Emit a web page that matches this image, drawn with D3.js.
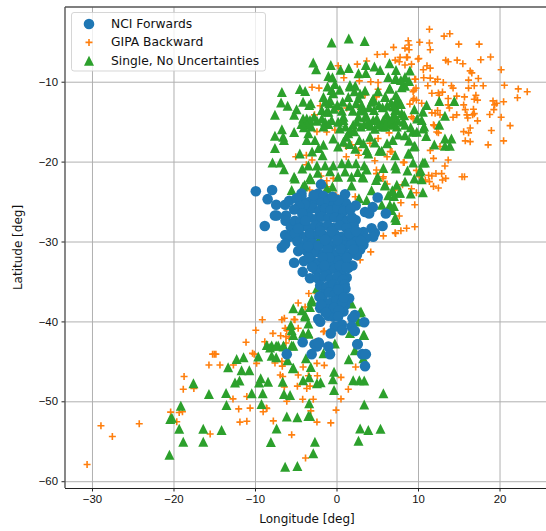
<!DOCTYPE html>
<head>
    <meta charset="utf-8">
    <style>
        body{
            margin:0;
            background:#fff;
        }

        svg{
            display:block;
            font-family:'DejaVu Sans', sans-serif;
        }

        .axis text{
            font-size:11.4px;
            fill:#111;
        }

        .axis line{
            stroke:#222;
        }

        .axis .domain{
            display:none;
        }

        .grid line{
            stroke:#b0b0b0;
            stroke-width:1px;
        }

        .grid .domain{
            display:none;
        }

        .label{
            font-size:12px;
            fill:#111;
        }

        .legend text{
            font-size:12.3px;
            fill:#111;
        }
    </style>
</head>
<body>
    <div id="chart"></div>
    <script src="https://d3js.org/d3.v7.min.js"></script>
    <script>
        // values as [longitude, latitude]
        var nciPoints = [
            [-9.9,-23.7],[-7.9,-23.55],[-8.45,-24.7],[-7.4,-25.4],[-6.3,-25.4],[-5.8,-24.9],[-7.55,-26.75],[-7.35,-26.75],
            [-8.8,-28.05],[-6.2,-26.75],[-6.25,-27.4],[-5.6,-28.2],[-5.1,-27.4],[-4.4,-27.6],[-6.3,-29.2],[-5.7,-29.4],
            [-6.7,-30.75],[-6.3,-30.3],[-4.5,-29.2],[-3.65,-29.4],[-4.7,-31.2],[-3.65,-31.2],[-5.2,-32.65],[-4,-32.45],
            [-4.15,-33.8],[-3.25,-34.6],[-1.9,-22.85],[-4.3,-24],[-4.3,-24.4],[-4.9,-24.6],[-3.6,-25.2],[-2.25,-24],
            [-1.6,-24.3],[1.05,-24.1],[0.35,-25],[1.15,-25.2],[2.35,-25.5],[5.05,-24.5],[4.45,-25.7],[3.5,-26.3],
            [4,-26.5],[6.05,-26.5],[2.35,-27.3],[0.45,-26.3],[5.65,-28.05],[4.3,-28.35],[4.7,-28.9],[3.3,-28.8],
            [4.5,-29.4],[2.7,-29],[1.85,-29.2],[3.3,-30.4],[2.9,-31],[2.5,-31.7],[1.95,-33],[1.45,-33.3],
            [1.25,-34.5],[0.85,-36.1],[1.55,-37.1],[1.05,-37.95],[0.85,-38.75],[-2,-38.35],[-1.6,-38.15],[-2.25,-39.7],
            [-2,-40.05],[-0.4,-39.4],[2.25,-39.2],[1.95,-39.6],[3.4,-40.1],[1.85,-40.65],[2.25,-41.2],[0.65,-40.4],
            [-0.2,-40.65],[0.7,-41.1],[-0.7,-41.5],[2.6,-42.85],[-1,-43.15],[-2.15,-42.75],[-2.7,-42.85],[-2.4,-43.15],
            [-4.15,-42.6],[-2.2,-42.65],[-3.05,-44.1],[-6.1,-44.1],[-0.8,-44.1],[2.55,-42.85],[3.15,-44.1],[3.6,-44.1],
            [3.5,-45.6],
            // the dense column
            [-3.2,-25],[-2.6,-24.8],[-1.8,-25.2],[-1,-24.9],[-0.3,-25.3],[-3.4,-26],[-2.9,-25.8],[-2.1,-26.2],
            [-1.4,-25.9],[-0.7,-26.1],[0.1,-25.8],[0.9,-26.2],[-3.3,-27],[-2.5,-27.2],[-1.8,-26.9],[-1,-27.1],
            [-0.2,-27],[0.6,-27.2],[1.3,-27.4],[2.1,-28],[-4.1,-28.1],[-3.4,-28.3],[-2.6,-28],[-1.9,-28.2],
            [-1.1,-28],[-0.4,-28.3],[0.4,-28],[1.2,-28.3],[-5.1,-29],[-4.8,-30],[-2.9,-29.3],[-1.7,-29.2],
            [-1,-29.4],[-0.2,-29.1],[0.6,-29.4],[1.3,-29.5],[2.4,-30],[3.6,-29.6],[-3.9,-30.4],[-3,-30.2],
            [-2.7,-30.8],[-1.4,-30.3],[-0.6,-30.5],[0.2,-30.2],[1,-30.5],[1.8,-30.4],[-3.1,-31.5],[-2.4,-31.3],
            [-1.6,-31.6],[-0.8,-31.3],[0,-31.6],[0.8,-31.3],[1.6,-31.6],[-2.9,-32.5],[-2.2,-32.7],[-1.4,-32.4],
            [-0.6,-32.7],[0.2,-32.4],[1,-32.7],[-2.5,-33.6],[-1.8,-33.4],[-1,-33.7],[-0.2,-33.4],[0.6,-33.7],
            [-2.3,-34.6],[-1.5,-34.4],[-0.7,-34.7],[0.1,-34.4],[0.8,-34.8],[-2,-35.5],[-1.2,-35.7],[-0.4,-35.4],
            [0.3,-35.7],[1,-35.4],[-1.6,-36.6],[-0.9,-36.4],[-0.2,-36.7],[0.6,-36.5],[-1.6,-37.5],[-0.8,-37.7],
            [0,-37.4],[0.7,-37.6],[-1.1,-38.5],[-0.3,-38.3],[0.3,-38.6],[-1,-39.3],[0.2,-39.4],
            [-2.8,-24.2],[-3.9,-25.4],[-4.6,-25.6],[-5.2,-26],[-4.2,-26.5],[-3.8,-27.4],[-4.7,-28.4],[-3.2,-29],
            [-2.2,-29.1],[-4.3,-30.9],[-2.2,-30.5],[-3.4,-32],[-3,-33.2],[-1.1,-31],[0.5,-30.9],[1.3,-32],
            [1.6,-29],[2.4,-28.7],[3,-29.9],[1.9,-27],[0.2,-24.8],[-0.5,-24.4],[1.7,-26],[-0.9,-32],
            [-1.7,-32],[0.4,-33],[1.2,-33.2],[1.1,-35.9],[-2.1,-36.9],[-1.9,-37.9],[0.2,-36],[-1.5,-33],
            [-2,-28.7],[-0.6,-28.7],[0.1,-29.8],[-1.4,-29.8],[-3.5,-30.6],[2.1,-31],[-1.3,-38.9],[0.9,-37]
        ];

        var gipaPoints = [
            [11.4,-3.44],[13.2,-4.3],[13.9,-4],[10.2,-5.07],[11.4,-5.15],[11.5,-6],[15,-5.3],[17.5,-5.3],[8.8,-4.87],[8.9,-5.4],
            [8.4,-5.8],[8.9,-6],[8.7,-6.95],[7.8,-6.95],[10.1,-7.1],[13.4,-7.3],[13.7,-7.5],[14.8,-7.3],[15.5,-7.75],[17.7,-7.25],
            [18.9,-6.9],[8.4,-7.9],[9.2,-7.8],[11.1,-8],[11.5,-8.3],[10.65,-8.5],[16.4,-8.65],[16.6,-8.9],[20.2,-8.5],[17.4,-9.6],
            [10.7,-9.5],[11.5,-9.55],[9.7,-9.7],[12.4,-9.7],[12.1,-10],[13.1,-10.1],[16.2,-9.8],[11.2,-10.5],[14.1,-10.5],[14.3,-10.8],
            [16.2,-10.8],[16.9,-10.5],[18,-10.5],[20.6,-10.45],[22.3,-10.9],[23.4,-11.25],[22.2,-12],[9.75,-10.8],[9.4,-11.25],[11.7,-11.45],
            [12.5,-11.4],[13,-11.3],[12.6,-11.7],[14.75,-11.8],[15.7,-11.9],[17.1,-11.7],[16.9,-12.2],[17.3,-12.3],[13.7,-12.1],[9.5,-12.1],
            [9.8,-12.3],[19.2,-12.4],[19.65,-12.7],[20.5,-12.5],[19.4,-12.9],[10.45,-12.7],[9,-12.8],[13.7,-12.9],[13.85,-13.3],[15.6,-12.9],
            [15.8,-13.5],[16.8,-13.45],[19.3,-13.5],[18.8,-14.1],[11.7,-13.9],[12.4,-13.6],[12.1,-13.95],[12.7,-14.15],[14.75,-14.15],[16,-14.15],
            [16.9,-14],[20.2,-14.45],[16.1,-14.55],[9.2,-14.4],[16.4,-15.8],[15.6,-16.25],[16.2,-16.4],[19,-16.1],[21.3,-15.5],[15.8,-17.4],
            [16.4,-17.5],[18.6,-17.9],[20.5,-17.4],[17.3,-14.9],[16.7,-14.15],[14.3,-14.45],[12.5,-16.4],[12,-15.5],[12.7,-18.1],[11.5,-18.6],
            [11.9,-19.6],[13.7,-19.8],[13.3,-20.55],[8.2,-20.1],[9.8,-21.1],[12.2,-21.5],[12.9,-21.5],[13.4,-22.1],[13,-22.3],[11.3,-21.7],
            [11.7,-21.8],[10.9,-22.3],[11.4,-22.5],[15.4,-21.9],[15.7,-21.9],[11.9,-23.1],[12.5,-23.3],[8.1,-22.9],[9.2,-23.4],[9.8,-23.9],
            [7.9,-25.15],[9.6,-25.4],[7.7,-26.8],[7.2,-28.9],[7.9,-28.65],[8.6,-28.35],[9.6,-28.15],[6.8,-18.75],
            [7,-5.7],[5,-6.6],[5.95,-6.55],[7.2,-7.3],[7.7,-7.5],[8.6,-6.95],[3.7,-7.4],[2.55,-7.8],[0.2,-8],[10,-7.15],
            [0.9,-9.5],[-3,-10.7],[-2.15,-10.8],[2.8,-9.9],[4.2,-10],[5.1,-10.1],[5.1,-10.95],[9.6,-9.7],[9.5,-11.05],[3.5,-11.65],
            [4.9,-11.9],[-2,-13],[0.2,-13.3],[1.25,-13.3],[2.5,-12.9],[9.4,-12.3],[9.4,-14.6],[-2.7,-14.15],[11.9,-15.4],[-2.4,-16.25],
            [-1.2,-16.3],[-0.2,-16.05],[6.45,-16.4],[12.3,-16.3],[5.1,-17.1],[1.85,-17.9],[1.2,-18.1],[2.7,-18.6],[2.7,-19.2],[4.1,-17.7],
            [6.6,-18.75],[1.2,-19.4],[6.2,-19.4],[-5,-19.4],[-3.7,-19.2],[-3,-19.8],[4.7,-19.9],[8.3,-20.1],[-3.7,-20.4],[4.9,-21.05],
            [4.9,-21.5],[-1.9,-21.8],[-0.4,-22.1],[5.7,-22.1],[10.2,-21.9],[5.75,-21.9],[-3.3,-23.55],[-1.2,-22.4],[-1.2,-23.15],[2.3,-24.4],
            [-0.1,-24.2],[7.2,-23.55],[6.2,-22.8],[7.25,-29],[5.75,-29.3],[4.2,-31.3],[2.9,-32.3],
            [-9.1,-39.8],[-9.9,-41.1],[-11.1,-42.6],[-15,-44.1],[-15.2,-44.1],[-14.8,-44.1],[-15.65,-45.45],[-14.3,-45.45],[-12.65,-45.45],[-10.3,-44],
            [-10.1,-44.1],[-9.8,-45.25],[-8.8,-42.55],[-7.8,-41.5],[-6.85,-41.8],[-6.4,-39.6],[-6.7,-39.8],[-6.1,-41.1],[-6.2,-41.9],[-6.2,-42.7],
            [-7.55,-45.2],[-6.7,-45],[-6.65,-45.6],[-6.9,-46.7],[-6.6,-46.9],[-4.7,-46.7],[-4.8,-48.1],[-6.4,-48.2],[-17.5,-48.4],[-12.7,-49.7],
            [-11,-49.4],[-6.1,-50],[-12,-50.95],[-10.6,-50.85],[-8.6,-50.85],[-30.6,-57.9],[-27.5,-54.4],[-28.9,-53.05],[-24.2,-52.8],[-20.35,-51.35],
            [-19.3,-51.4],[-18.9,-51.3],[-19.6,-52.55],[-18.8,-48.5],[-18.7,-46.9],[-15.5,-54.1],[-11.85,-52.6],[-11,-52.5],[-9,-51.3],[-8.55,-50.9],
            [-7.75,-52.45],[-5.5,-54.2],[-3.8,-57.1],[-2.4,-52.6],[-0.7,-52.7],[-0.05,-51.1],[0.55,-49.7],[1.45,-48.5],[0.55,-47],[2.35,-45.7],
            [-1.5,-45.5],[-2.4,-45.25],[-4.1,-45.7],[-3.45,-46.8],[-2.35,-46.8],[-3.65,-48.4],[-3.25,-48.1],[-4.15,-49.75],[-2.85,-49.75],[-3.15,-51.2],
            [-2.6,-42.55],[-5.8,-42.1],[-1.6,-41.3],[-4.7,-40.85],[-6.3,-40.85],[-5.2,-39.75],[-3.85,-38.2],[-4.7,-37.7],[-3.4,-36.5],[-2.4,-36.5],
            [-5.1,-39.8],[-1.5,-41.2]
        ];

        var singlePoints = [
            [1.5,-4.6],[3.45,-4.9],[-0.6,-5.1],[-2.85,-7.6],[-2.5,-8.45],[-0.7,-7.9],[1.5,-8.3],[0.5,-8.5],[3.6,-7.9],[4.65,-8.1],
            [6.5,-7.7],[2.7,-8.95],[3.6,-8.9],[-1,-9.3],[-0.5,-9.45],[5.35,-8.55],[7.3,-8.55],[6.35,-9.4],[7.3,-9.6],[-6.7,-11.3],
            [-4.5,-10.9],[-3.85,-11.15],[-6.8,-12.6],[-6,-13],[-4.1,-12.5],[-3.15,-12.7],[-3.35,-12.9],[-7.55,-14.15],[-4.9,-13.45],[-5.2,-14.15],
            [-1.6,-11.9],[-0.6,-11.05],[-0.8,-12.3],[-0.9,-12.7],[1.65,-10.4],[2.3,-10.5],[0.75,-12.5],[1.45,-11.9],[2.7,-12.1],[2.4,-12.7],
            [3.1,-12.9],[4.5,-12.1],[4.3,-12.5],[6,-11.9],[6.5,-10.85],[7.3,-11.65],[-1.8,-13.55],[-1,-13.75],[0.65,-13.65],[2,-13.65],
            [3.3,-13.55],[4.6,-13.55],[5.65,-13.2],[7.2,-13.55],[-4.1,-14.6],[-3.65,-14.6],[-2.75,-14.4],[0.85,-14.4],[2.7,-14.4],[3.7,-14.4],
            [6.15,-14.15],[9,-8.6],[8.4,-9.4],[7.2,-9.65],[8.4,-10.5],[8,-10.7],[12.6,-12.4],[14.45,-12.4],[11.05,-12.9],[13.3,-14.25],
            [12.6,-15.4],[9.55,-13.45],[10.6,-13.75],[10.45,-14.8],[10.75,-15.6],[11,-16.8],[13.3,-17.1],[14.1,-17.1],[12,-17.85],[13.3,-18],
            [13.9,-18],[9.6,-18],[9.35,-16.25],[8.8,-19],[9.4,-20.1],[10.6,-20.1],[10.25,-21.25],[7.2,-19.2],[7.2,-20.5],[7.3,-20.85],
            [5.75,-20.8],[5.55,-18.65],[5.25,-18.65],[7.6,-16.6],[8.4,-16.7],[4.1,-16.9],[2.8,-17.3],[3.3,-17.7],[3.7,-18.55],[3.9,-19],
            [1.45,-16.45],[1.2,-16.9],[0.85,-17.5],[0.4,-15.85],[-0.4,-17.1],[0.2,-18.1],[-2.65,-17.3],[-3.45,-16.45],[-3.65,-17.3],[-5.2,-16.3],
            [-6.7,-15.95],[-7.55,-16.75],[-6.55,-16.9],[-6.45,-17.3],[-7.55,-18.3],[-4.5,-19],[-3,-18.75],[-1.7,-19.2],[-7.85,-20.1],[-6.9,-20.1],
            [-6.45,-20.95],[-4.2,-20.85],[-3.45,-20.5],[-2.4,-20.5],[-1.4,-20.5],[-0.4,-20.5],[0.65,-20.2],[1.45,-20.2],[2.4,-20.2],[3.4,-20.5],
            [1.05,-21.25],[-3.25,-22],[-5.2,-21.9],[0.2,-21.9],[1.85,-21.9],[3.2,-21.9],[5.05,-21.9],[-3.85,-15],[-4.3,-15.3],[-3.25,-14.8],
            [-1.8,-14.6],[-1.2,-13.75],[-0.6,-14.8],[0.85,-14.8],[2.05,-15.4],[2.5,-15],[3.5,-14.4],[4.5,-14.8],[4.95,-14.6],[5.75,-14.8],
            [6.55,-15.2],[7.4,-13.55],[7.6,-12.3],[8,-13.95],[8.2,-15],[7.2,-12.7],[5.95,-11.9],[4.5,-12.3],[1.65,-10.6],[6.55,-10.85],
            [-0.4,-11.45],[10.65,-15.85],[9.85,-16.25],[8.4,-15.4],[6.9,-15.4],[8.9,-17.4],[9.5,-18.1],[8.9,-19],[10.85,-20.1],[10.3,-21.05],
            [9.55,-22.1],[10.45,-22.2],[9.1,-24],[10.6,-23.85],[7.7,-23.9],[6.9,-23.7],[7.05,-24.3],[7.05,-25.55],[6.75,-26.05],[7.2,-27],
            [7.3,-27.3],[-5.1,-22.1],[-3.15,-22.2],[4.85,-22.3],[5.95,-22.9],[7.4,-22.9],[-5.5,-23.55],[-4.1,-23.1],[-1.2,-23.35],[-3.9,-22.9],
            [-0.5,-23.1],[1.85,-23],[3.3,-22],[5.95,-23],[4.3,-23.6],[6.85,-23.6],[7.8,-23.9],[6.35,-24.2],[3.7,-24.8],[2.75,-24.6],
            [5.55,-25.4],[6.55,-25.4],[-3.45,-26.4],[-2.2,-29.8],[-2.4,-35.85],[-1.8,-36.9],[-3.05,-37.5],[-3.25,-38.2],[-5.3,-38.35],[-3.85,-39.4],
            [3,-38.75],[1.85,-37.75],[2.7,-40],[-5.6,-40.45],[-3.45,-40.25],[-5.3,-41.7],[3.4,-41.7],[1.65,-41.45],[-3.45,-41.45],[-0.2,-42.75],
            [-8.55,-42.95],[-7.95,-43],[-7.15,-43],[-6.5,-43],[-5.5,-43],[-8.15,-43.25],[-7.4,-43.05],[-6.5,-43.15],[-5.3,-43.05],[-5.5,-41.1],
            [-9.6,-44.4],[-7.95,-44.3],[-7.4,-44.5],[-6,-44.85],[-12.25,-44.7],[-11.4,-44.5],[-13.3,-45.75],[-11.65,-46.1],[-10.7,-46.1],[-5.3,-45.8],
            [-12.45,-47.65],[-11.9,-47.4],[-9.3,-47.1],[-9.5,-47.65],[-8.4,-47.55],[-6.6,-47.55],[-17.55,-47.75],[-15.65,-49.1],[-13.55,-48.95],[-10.4,-49],
            [-9.05,-49],[-6.45,-49.1],[-5.7,-49.2],[-13.5,-50.45],[-9.2,-50.35],[-20.5,-56.7],[-18.8,-55.05],[-16.35,-55.05],[-19.3,-53.45],[-16.35,-53.45],
            [-14.1,-53.6],[-20.4,-52.2],[-20.2,-52.05],[-19.1,-50.55],[-8.05,-55.1],[-7.35,-53.4],[-6.3,-58.2],[-4.8,-58.1],[-6.1,-51.9],[-4.8,-52],
            [5.75,-49],[3.4,-50.4],[2.9,-53.4],[3.9,-53.6],[5.4,-53.45],[2.7,-54.95],[-2.65,-55.05],[-2.85,-56.5],[-3.45,-51.85],[-3.25,-51.85],
            [-3.35,-50.25],[-0.3,-48.6],[-2.4,-47.75],[-1.95,-47.6],[-4.1,-47.35],[-3.35,-47],[-3.15,-45.7],[-5.35,-45.85],[-3.75,-44.6],[-0.45,-47.25],
            [-0.3,-46.3],[2.05,-47.35],[2.8,-47.35],[3.4,-47.4],[1.5,-44.75],[2.25,-43.6],[3.3,-44.6],[3.3,-41.7],[2.85,-38.9],[-1.6,-44],
            [-4.1,-41.5],[-3.45,-41.55],[-3.85,-39.2],[-4.25,-38.6],[-3.05,-37.3],
            // the thick upper patch
            [-3.6,-15.4],[-3.1,-15.6],[-4,-15.7],[-2.4,-14.9],[-1.4,-15],[-1,-15.3],[-1.6,-15.6],[0.2,-15],[1.1,-15.6],[1.7,-16],
            [2.2,-16.2],[3,-15.6],[3.4,-15.3],[3.9,-15.1],[4.2,-15.5],[4.7,-15.9],[5.2,-15.3],[5.6,-15.6],[6,-15.6],[6.3,-14.8],
            [6.8,-14.6],[7.1,-14.2],[7.5,-14.8],[7.4,-15.6],[6.2,-13],[6.7,-12.6],[7,-13.1],[7.9,-12.8],[8.3,-14.2],[5.2,-12.9],
            [4,-13.2],[2.9,-13.6],[1.6,-13],[0.1,-12.9],[-0.3,-13.4],[-1.4,-12.5],[2.2,-11.2],[2.9,-11.5],[3.5,-11.1],[5.1,-11.2],
            [7.9,-9.8],[8.9,-9.9],[-1.1,-10.6],[-0.2,-10.3],[0.4,-11],[4.7,-17.6],[2.3,-18.4],[1.6,-17.8],[-1.6,-17.9],[-2.2,-18.3],
            [8.7,-21.1],[8.4,-22.5],[3.7,-21],[2.6,-21.3],[-0.8,-21.2],[-2.3,-21.4],[9.1,-15.7],[9.9,-14.6],[6.9,-17.3],[6.2,-17.7]
        ];

        var seriesNames = ["NCI Forwards", "GIPA Backward", "Single, No Uncertainties"];
        var seriesColors = ["#1f77b4", "#ff7f0e", "#2ca02c"];
        var xTicks = [-30, -20, -10, 0, 10, 20];
        var yTicks = [-10, -20, -30, -40, -50, -60];

        var width = 546, height = 531;
        var margin = {top: 7, right: -3, bottom: 43, left: 65};
        var innerWidth = width - margin.left - margin.right;
        var innerHeight = height - margin.top - margin.bottom;

        var svg = d3.select("#chart").append("svg")
            .attr("width", width)
            .attr("height", height);

        var g = svg.append("g")
            .attr("transform", "translate(" + margin.left + "," + margin.top + ")");

        var x = d3.scaleLinear().domain([-33.31, 26.07]).range([0, innerWidth]);
        var y = d3.scaleLinear().domain([-60.85, -0.65]).range([innerHeight, 0]);

        // matplotlib's upward triangle fills its whole box
        var triangle = {
            draw: function(context, size) {
                var r = Math.sqrt(size) / 2;
                context.moveTo(0, -r);
                context.lineTo(r, r);
                context.lineTo(-r, r);
                context.closePath();
            }
        };

        var circlePath = d3.symbol().type(d3.symbolCircle).size(88)();
        var plusPath = d3.symbol().type(d3.symbolPlus).size(18)();
        var trianglePath = d3.symbol().type(triangle).size(100)();

        // gridlines
        g.append("g")
            .attr("class", "grid")
            .attr("transform", "translate(0," + innerHeight + ")")
            .call(d3.axisBottom(x).tickValues(xTicks).tickSize(-innerHeight).tickFormat(""))
            .selectAll("text").remove();

        g.append("g")
            .attr("class", "grid")
            .call(d3.axisLeft(y).tickValues(yTicks).tickSize(-innerWidth).tickFormat(""))
            .selectAll("text").remove();

        // orange goes under the green and blue goes on top of everything
        g.append("g").selectAll("path")
            .data(gipaPoints)
            .enter().append("path")
            .attr("d", plusPath)
            .attr("transform", function(d) { return "translate(" + x(d[0]) + "," + y(d[1]) + ")"; })
            .attr("fill", "none")
            .attr("stroke", seriesColors[1])
            .attr("stroke-width", 1.6);

        g.append("g").selectAll("path")
            .data(singlePoints)
            .enter().append("path")
            .attr("d", trianglePath)
            .attr("transform", function(d) { return "translate(" + x(d[0]) + "," + y(d[1]) + ")"; })
            .attr("fill", seriesColors[2]);

        g.append("g").selectAll("path")
            .data(nciPoints)
            .enter().append("path")
            .attr("d", circlePath)
            .attr("transform", function(d) { return "translate(" + x(d[0]) + "," + y(d[1]) + ")"; })
            .attr("fill", seriesColors[0]);

        // axes and frame
        g.append("g")
            .attr("class", "axis")
            .attr("transform", "translate(0," + innerHeight + ")")
            .call(d3.axisBottom(x).tickValues(xTicks).tickSize(3.5).tickPadding(3.5));

        g.append("g")
            .attr("class", "axis")
            .call(d3.axisLeft(y).tickValues(yTicks).tickSize(3.5).tickPadding(3.5));

        g.append("line").attr("x1", 0).attr("x2", innerWidth).attr("y1", 0).attr("y2", 0)
            .attr("stroke", "#555").attr("stroke-width", 1.4);
        g.append("line").attr("x1", 0).attr("x2", 0).attr("y1", 0).attr("y2", innerHeight)
            .attr("stroke", "#555").attr("stroke-width", 1.4);
        g.append("line").attr("x1", 0).attr("x2", innerWidth).attr("y1", innerHeight + 0.5).attr("y2", innerHeight + 0.5)
            .attr("stroke", "#222").attr("stroke-width", 1);

        svg.append("text")
            .attr("class", "label")
            .attr("x", margin.left + innerWidth / 2)
            .attr("y", 523)
            .attr("text-anchor", "middle")
            .text("Longitude [deg]");

        svg.append("text")
            .attr("class", "label")
            .attr("transform", "translate(22," + (margin.top + innerHeight / 2) + ") rotate(-90)")
            .attr("text-anchor", "middle")
            .text("Latitude [deg]");

        // legend
        var legend = svg.append("g").attr("class", "legend");

        legend.append("rect")
            .attr("x", 71.5)
            .attr("y", 12.5)
            .attr("width", 194)
            .attr("height", 58.5)
            .attr("rx", 2.5)
            .attr("fill", "#fff")
            .attr("fill-opacity", 0.8)
            .attr("stroke", "#ccc")
            .attr("stroke-opacity", 0.8);

        var legendPaths = [circlePath, plusPath, trianglePath];

        var rows = legend.selectAll(".row")
            .data(seriesNames)
            .enter().append("g")
            .attr("class", "row")
            .attr("transform", function(d, i) { return "translate(0," + (24 + i * 18.4) + ")"; });

        rows.append("path")
            .attr("d", function(d, i) { return legendPaths[i]; })
            .attr("transform", "translate(89,0)")
            .attr("fill", function(d, i) { return i == 1 ? "none" : seriesColors[i]; })
            .attr("stroke", function(d, i) { return i == 1 ? seriesColors[i] : "none"; })
            .attr("stroke-width", 1.6);

        rows.append("text")
            .attr("x", 111)
            .attr("y", 4)
            .text(function(d) { return d; });
    </script>
</body>
